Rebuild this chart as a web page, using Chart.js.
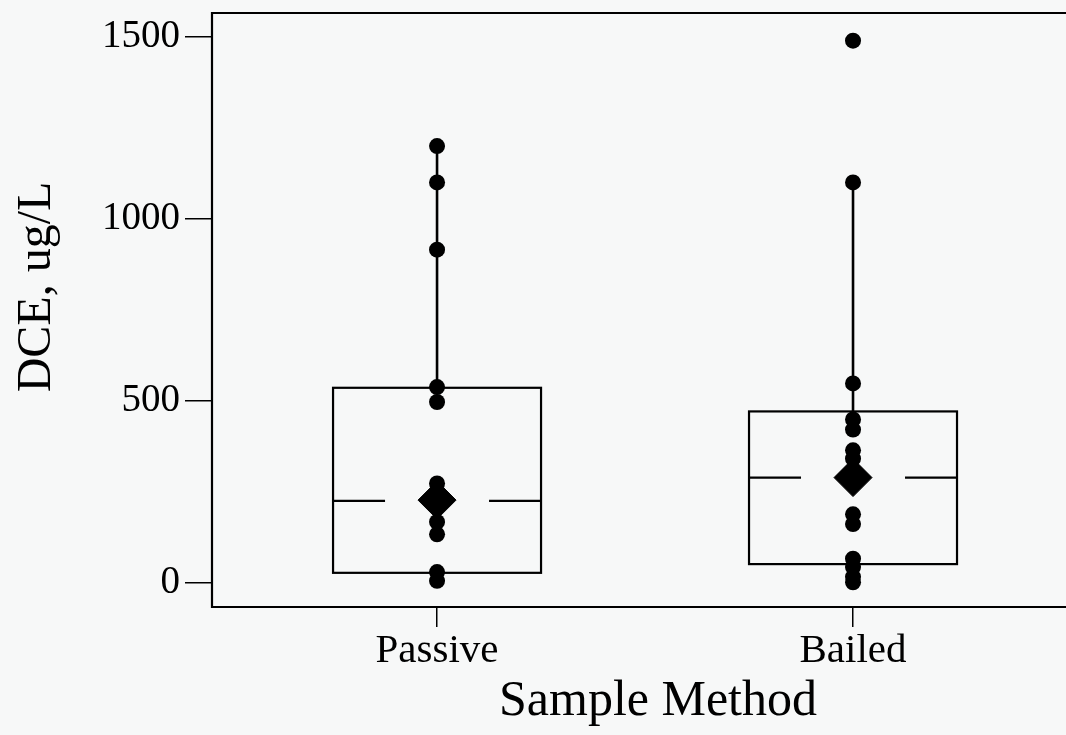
<!DOCTYPE html>
<html>
<head>
<meta charset="utf-8">
<script src="https://cdn.jsdelivr.net/npm/chart.js@4/dist/chart.umd.min.js"></script>
<style>
  html, body { margin: 0; padding: 0; background: #f7f8f8; overflow: hidden; }
  #c { display: block; }
</style>
</head>
<body>
<canvas id="c" width="1066" height="735"></canvas>
<script>
// ---- data ----
const categories = ['Passive', 'Bailed'];
const catPos = [1, 2];
const q1 = [26, 50];
const median = [224, 288];
const q3 = [535, 470];
const whiskerLow = [4, 0];
const whiskerHigh = [1200, 1100];
const means = [226, 288];
const passivePoints = [1200, 1100, 915, 537, 496, 272, 166, 132, 28, 4];
const bailedPoints = [1490, 1100, 547, 448, 420, 363, 340, 187, 160, 65, 42, 15, 0];
const yTicks = [0, 500, 1000, 1500];
const xTitle = 'Sample Method';
const yTitle = 'DCE, ug/L';

const FONT = '"Liberation Serif", "Times New Roman", serif';

const noPad = s => { s.paddingTop = 0; s.paddingBottom = 0; s.paddingLeft = 0; s.paddingRight = 0; };

const boxPlugin = {
  id: 'boxes',
  beforeDatasetsDraw(chart) {
    const {ctx, chartArea, scales} = chart;
    const xs = scales.x, ys = scales.y;
    ctx.save();
    ctx.strokeStyle = '#000';
    ctx.lineWidth = 2.2;
    catPos.forEach((p, i) => {
      const xl = xs.getPixelForValue(p - 0.25);
      const xr = xs.getPixelForValue(p + 0.25);
      const xc = xs.getPixelForValue(p);
      const yt = ys.getPixelForValue(q3[i]);
      const yb = ys.getPixelForValue(q1[i]);
      const ym = ys.getPixelForValue(median[i]);
      ctx.strokeRect(xl, yt, xr - xl, yb - yt);
      const gl = xs.getPixelForValue(p - 0.125);
      const gr = xs.getPixelForValue(p + 0.125);
      ctx.beginPath();
      ctx.moveTo(xl, ym); ctx.lineTo(gl, ym);
      ctx.moveTo(gr, ym); ctx.lineTo(xr, ym);
      ctx.stroke();
      ctx.lineWidth = 2.6;
      ctx.beginPath();
      ctx.moveTo(xc, yt); ctx.lineTo(xc, ys.getPixelForValue(whiskerHigh[i]));
      ctx.moveTo(xc, yb); ctx.lineTo(xc, ys.getPixelForValue(whiskerLow[i]));
      ctx.stroke();
      ctx.lineWidth = 2.2;
    });
    ctx.beginPath();
    ctx.moveTo(chartArea.right + 5, chartArea.top);
    ctx.lineTo(chartArea.left, chartArea.top);
    ctx.lineTo(chartArea.left, chartArea.bottom);
    ctx.lineTo(chartArea.right + 5, chartArea.bottom);
    ctx.stroke();
    ctx.restore();
  },
  afterDraw(chart) {
    const {ctx} = chart;
    ctx.save();
    ctx.fillStyle = '#000';
    ctx.font = '50px ' + FONT;
    ctx.textAlign = 'center';
    ctx.textBaseline = 'alphabetic';
    ctx.fillText(xTitle, 658, 715);
    ctx.translate(50, 287);
    ctx.rotate(-Math.PI / 2);
    ctx.font = '48px ' + FONT;
    ctx.fillText(yTitle, 0, 0);
    ctx.restore();
  }
};

const bg = {
  id: 'bg',
  beforeDraw(chart) {
    const {ctx, width, height} = chart;
    ctx.save();
    ctx.fillStyle = '#f7f8f8';
    ctx.fillRect(0, 0, width, height);
    ctx.restore();
  }
};

new Chart(document.getElementById('c'), {
  type: 'scatter',
  data: {
    datasets: [
      {
        label: 'Passive',
        data: passivePoints.map(v => ({x: catPos[0], y: v})),
        pointStyle: 'circle', pointRadius: 8,
        backgroundColor: '#000', borderColor: '#000', borderWidth: 0
      },
      {
        label: 'Bailed',
        data: bailedPoints.map(v => ({x: catPos[1], y: v})),
        pointStyle: 'circle', pointRadius: 8,
        backgroundColor: '#000', borderColor: '#000', borderWidth: 0
      },
      {
        label: 'Mean',
        data: means.map((v, i) => ({x: catPos[i], y: v})),
        pointStyle: 'rectRot', pointRadius: 19,
        backgroundColor: '#000', borderColor: '#000', borderWidth: 1
      }
    ]
  },
  options: {
    responsive: false,
    animation: false,
    devicePixelRatio: 1,
    layout: { autoPadding: false, padding: { top: 13, right: 0, left: 0, bottom: 0 } },
    plugins: { legend: { display: false }, tooltip: { enabled: false } },
    scales: {
      x: {
        type: 'linear',
        min: 0.459, max: 2.512,
        afterBuildTicks: s => { s.ticks = catPos.map(v => ({value: v})); },
        afterFit: s => { s.height = 128; noPad(s); },
        ticks: {
          callback: v => categories[catPos.indexOf(v)],
          font: { family: FONT, size: 41 },
          color: '#000', padding: 0, maxRotation: 0, autoSkip: false
        },
        grid: { drawOnChartArea: false, drawTicks: true, tickLength: 20, color: '#000', lineWidth: 1.5 },
        border: { display: false }
      },
      y: {
        min: -68, max: 1566,
        afterBuildTicks: s => { s.ticks = yTicks.map(v => ({value: v})); },
        afterFit: s => { s.width = 212; noPad(s); },
        ticks: {
          callback: v => String(v),
          font: { family: FONT, size: 39 },
          color: '#000', padding: 5
        },
        grid: { drawOnChartArea: false, drawTicks: true, tickLength: 27, color: '#000', lineWidth: 1.5 },
        border: { display: false }
      }
    }
  },
  plugins: [bg, boxPlugin]
});
</script>
</body>
</html>
